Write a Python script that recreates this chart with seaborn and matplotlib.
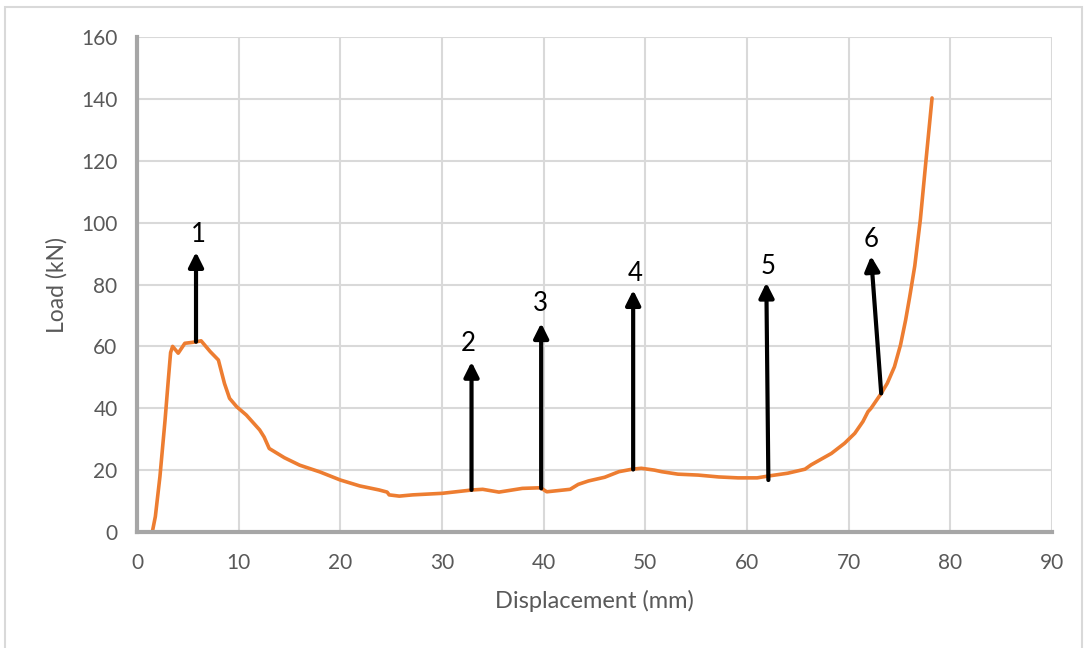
import matplotlib
matplotlib.use("Agg")
import matplotlib.pyplot as plt
from matplotlib.patches import Rectangle
import pandas as pd
import seaborn as sns

# load-displacement curve
displacement = [1.5, 1.8, 2.25, 2.75, 3.07, 3.3, 3.5, 4.05, 4.7, 5.7,
                6.3, 7.2, 8.0, 8.6, 9.1, 9.8, 10.75, 12.06, 12.5, 13.0,
                14.5, 16.0, 18.0, 20.0, 21.9, 23.8, 24.6, 24.8, 25.8, 27.1,
                30.0, 33.0, 34.0, 35.6, 37.9, 39.7, 40.3, 42.6, 43.4, 44.4,
                46.0, 47.4, 48.7, 49.6, 50.9, 51.6, 53.2, 55.2, 57.2, 59.1,
                61.0, 62.1, 64.0, 65.7, 66.3, 68.3, 69.6, 70.6, 71.4, 71.9,
                72.2, 73.2, 73.8, 74.5, 75.1, 75.6, 76.0, 76.5, 77.05, 77.6,
                78.2]
load = [0, 5, 17.9, 36, 49, 58, 60, 57.8, 61, 61.4,
        61.8, 58.3, 55.6, 48, 43.2, 40.5, 37.8, 33, 30.7, 27,
        24, 21.6, 19.4, 16.8, 14.9, 13.6, 12.9, 12, 11.6, 12,
        12.5, 13.6, 13.8, 12.9, 14.1, 14.3, 13, 13.8, 15.4, 16.5,
        17.7, 19.5, 20.3, 20.6, 20, 19.5, 18.7, 18.4, 17.8, 17.5,
        17.5, 18.1, 19, 20.3, 21.7, 25.4, 28.7, 31.9, 35.7, 38.9,
        40, 44.8, 48.1, 53.4, 60.5, 68.5, 76, 86, 101, 120,
        140.3]

# numbered arrows: base on the curve, tip, label position
arrow_labels = ['1', '2', '3', '4', '5', '6']
arrow_base_x = [5.8, 32.9, 39.75, 48.8, 62.1, 73.2]
arrow_base_y = [61.5, 13.6, 14.1, 20.2, 16.8, 44.8]
arrow_tip_x = [5.8, 32.9, 39.75, 48.8, 61.9, 72.2]
arrow_tip_y = [90.5, 55.0, 67.5, 78.2, 80.6, 89.2]
label_x = [6.0, 32.6, 39.7, 49.0, 62.1, 72.2]
label_y = [96.3, 61.0, 74.0, 83.7, 85.8, 94.4]

df = pd.DataFrame({'disp': displacement, 'load': load})

sns.set_style("whitegrid")
plt.rcParams['font.family'] = ['Lato', 'DejaVu Sans']

fig = plt.figure(figsize=(10.86, 6.48), dpi=100)
ax = fig.add_axes([0.1262, 0.179, 0.8425, 0.7639])

sns.lineplot(data=df, x='disp', y='load', sort=False, color='#ED7D31',
             linewidth=2.6, ax=ax)

for lab, bx, by, tx, ty, lx, ly in zip(arrow_labels, arrow_base_x, arrow_base_y,
                                       arrow_tip_x, arrow_tip_y, label_x, label_y):
    ax.annotate('', xy=(tx, ty), xytext=(bx, by),
                arrowprops=dict(arrowstyle='-|>', color='black', lw=3,
                                mutation_scale=22, shrinkA=0, shrinkB=0))
    ax.text(lx, ly, lab, fontsize=18.5, color='black', ha='center', va='center')

ax.set_xlim(0, 90)
ax.set_ylim(0, 160)
ax.set_xticks(range(0, 91, 10))
ax.set_yticks(range(0, 161, 20))
ax.grid(True, color='#d9d9d9', linewidth=1.5)
ax.tick_params(axis='both', length=0, labelsize=15, labelcolor='#595959')
ax.tick_params(axis='x', pad=15)
ax.tick_params(axis='y', pad=14)

for s in ['top', 'right']:
    ax.spines[s].set_visible(False)
for s in ['left', 'bottom']:
    ax.spines[s].set_color('#a6a6a6')
    ax.spines[s].set_linewidth(3)

ax.set_xlabel('Displacement (mm)', fontsize=17, color='#595959', labelpad=12)
ax.set_ylabel('Load (kN)', fontsize=16.5, color='#595959', labelpad=10)

fig.patches.append(Rectangle((5 / 1086, -0.02), 1077 / 1086, 1.02 - 7 / 648,
                             transform=fig.transFigure, fill=False,
                             edgecolor='#d9d9d9', linewidth=1.5))

fig.savefig('out.png', dpi=100)
